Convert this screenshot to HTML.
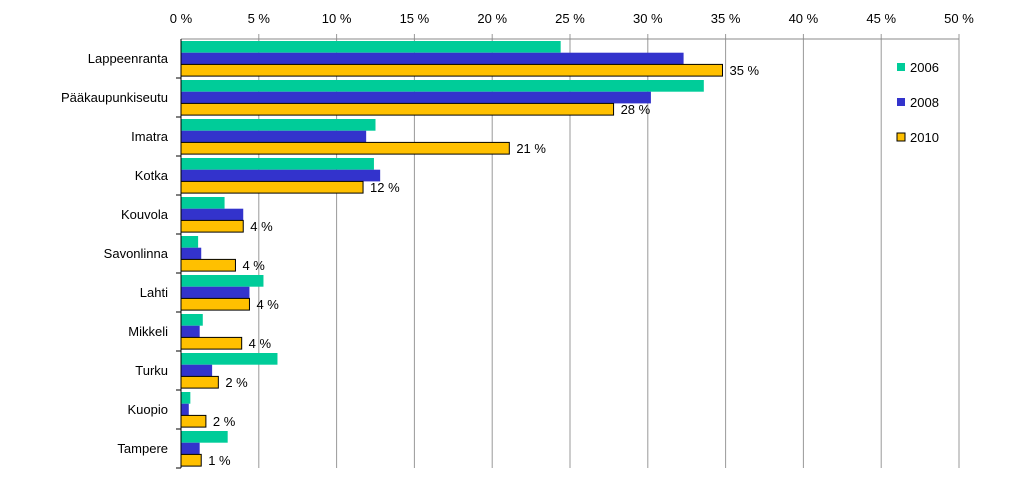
<!DOCTYPE html>
<html><head><meta charset="utf-8"><style>
body{margin:0;background:#fff;}
svg{display:block;font-family:"Liberation Sans",sans-serif;}
</style></head><body>
<svg id="chart" width="1023" height="504"></svg>
<script>
const categories=["Lappeenranta","Pääkaupunkiseutu","Imatra","Kotka","Kouvola","Savonlinna","Lahti","Mikkeli","Turku","Kuopio","Tampere"];
const s2006=[24.4,33.6,12.5,12.4,2.8,1.1,5.3,1.4,6.2,0.6,3.0];
const s2008=[32.3,30.2,11.9,12.8,4.0,1.3,4.4,1.2,2.0,0.5,1.2];
const s2010=[34.8,27.8,21.1,11.7,4.0,3.5,4.4,3.9,2.4,1.6,1.3];
const labels2010=["35 %","28 %","21 %","12 %","4 %","4 %","4 %","4 %","2 %","2 %","1 %"];
const ticks=[0,5,10,15,20,25,30,35,40,45,50];
const seriesNames=["2006","2008","2010"];
const colors=["#00cc99","#3333cc","#ffc000"];
const NS="http://www.w3.org/2000/svg";
const svg=document.getElementById("chart");
const x0=181,x1=959,yTop=39,band=39;
const xs=v=>x0+(v/50)*(x1-x0);
const yb=i=>yTop+i*band;
function mk(t,a,p){const e=document.createElementNS(NS,t);for(const k in a)e.setAttribute(k,a[k]);(p||svg).appendChild(e);return e;}
const yBottom=yb(categories.length);
ticks.forEach(t=>{
  const g=mk("line",{x1:xs(t),x2:xs(t),y1:t===0?yTop:yTop-5,y2:yBottom,stroke:t===0?"#000":"#999","stroke-width":1});
  
  
  const l=mk("text",{x:xs(t),y:23,"text-anchor":"middle","font-size":13,fill:"#000"});
  l.textContent=t+" %";
  
  
});
const ax=mk("line",{x1:x0,x2:x1,y1:yTop,y2:yTop,stroke:"#888"});


const series=[s2006,s2008,s2010];
categories.forEach((c,i)=>{
  const tk=mk("line",{x1:x0-5,x2:x0,y1:yb(i+1),y2:yb(i+1),stroke:"#000"});
  
  
  const t=mk("text",{x:168,y:yb(i)+24,"text-anchor":"end","font-size":13,fill:"#000"});
  t.textContent=c;
  
  
  series.forEach((s,k)=>{
    const y=yb(i)+2+k*11.7;
    const r=mk("rect",{x:x0,y:y,width:Math.max(0,xs(s[i])-x0),height:11.7,fill:colors[k],stroke:k===2?"#000":"none","stroke-width":1});
    
    
  });
  const v=mk("text",{x:xs(s2010[i])+7,y:yb(i)+36,"font-size":13,fill:"#000"});
  v.textContent=labels2010[i];
  
  
});
const lax=mk("line",{x1:x0,x2:x0,y1:yTop,y2:yBottom,stroke:"#000"});


seriesNames.forEach((n,k)=>{
  const y=68+k*35;
  const sq=mk("rect",{x:897,y:y-5,width:8,height:8,fill:colors[k],stroke:k===2?"#000":"none"});
  
  
  const t=mk("text",{x:910,y:y+4,"font-size":13,fill:"#000"});
  t.textContent=n;
  
  
});
</script>
</body></html>
